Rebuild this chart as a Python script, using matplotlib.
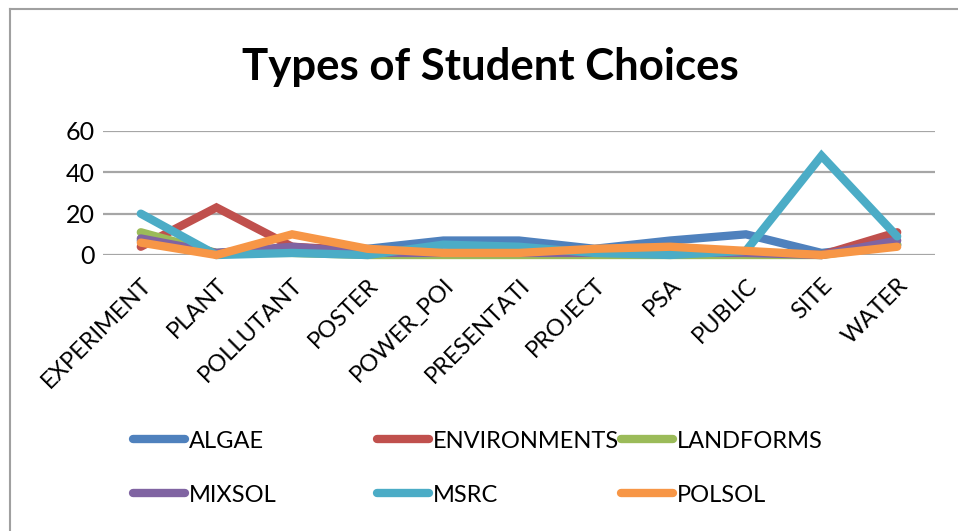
import matplotlib
matplotlib.use("Agg")
import matplotlib.pyplot as plt
from matplotlib.lines import Line2D

categories = ["EXPERIMENT", "PLANT", "POLLUTANT", "POSTER", "POWER_POI",
              "PRESENTATI", "PROJECT", "PSA", "PUBLIC", "SITE", "WATER"]

algae = [7, 1, 3, 3, 7, 7, 3, 7, 10, 1, 5]
environments = [4, 23, 4, 2, 1, 1, 1, 1, 1, 0, 11]
landforms = [11, 1, 1, 0, 0, 0, 0, 0, 0, 0, 5]
mixsol = [8, 1, 4, 1, 1, 1, 1, 1, 1, 0, 7]
msrc = [20, 0, 1, 0, 5, 4, 1, 0, 2, 48, 9]
polsol = [6, 0, 10, 3, 1, 1, 3, 4, 2, 0, 4]

series_names = ["ALGAE", "ENVIRONMENTS", "LANDFORMS", "MIXSOL", "MSRC", "POLSOL"]
series_values = [algae, environments, landforms, mixsol, msrc, polsol]
colors = ["#4F81BD", "#C0504D", "#9BBB59", "#8064A2", "#4BACC6", "#F79646"]

y_ticks = [0, 20, 40, 60]

plt.rcParams["font.family"] = ["Lato", "DejaVu Sans"]

W, H = 958, 531
fig = plt.figure(figsize=(W / 100, H / 100), dpi=100)
ax = fig.add_axes([103 / W, 1 - 255 / H, (935 - 103) / W, (255 - 131) / H])

x = range(len(categories))
for name, vals, col in zip(series_names, series_values, colors):
    ax.plot(x, vals, color=col, lw=6, label=name,
            solid_capstyle="round", solid_joinstyle="miter", clip_on=False, zorder=3)

ax.set_xlim(-0.5, len(categories) - 0.5)
ax.set_ylim(0, 60)
ax.set_yticks(y_ticks)
ax.grid(axis="y", color="#A6A6A6", lw=1.6, zorder=0)
for s in ax.spines.values():
    s.set_visible(False)
ax.tick_params(axis="both", length=0)
ax.tick_params(axis="y", pad=6, labelsize=18)
ax.set_xticks(list(x))
ax.set_xticklabels(categories, rotation=45, ha="right", va="top",
                   rotation_mode="anchor", fontsize=17)
ax.tick_params(axis="x", pad=14)

fig.text(490 / W, 1 - 67 / H, "Types of Student Choices", ha="center",
         va="center", fontsize=31.5, fontweight="bold")

# legend, three equal-width columns like the original
col_x = [133, 377, 621]
row_y = [441, 495]
for i, (name, col) in enumerate(zip(series_names, colors)):
    r, c = divmod(i, 3)
    h = Line2D([], [], color=col, lw=6, solid_capstyle="round")
    fig.legend([h], [name], loc="center left",
               bbox_to_anchor=(col_x[c] / W, 1 - row_y[r] / H),
               frameon=False, handlelength=2.2, handletextpad=0.15,
               borderaxespad=0, borderpad=0, fontsize=17)

# chart border (left and top visible)
fig.add_artist(Line2D([10 / W, 10 / W], [0, 1 - 9 / H], color="#A0A0A0", lw=1.5))
fig.add_artist(Line2D([10 / W, 1], [1 - 9 / H, 1 - 9 / H], color="#A0A0A0", lw=1.5))

fig.savefig("out.png", dpi=100)
